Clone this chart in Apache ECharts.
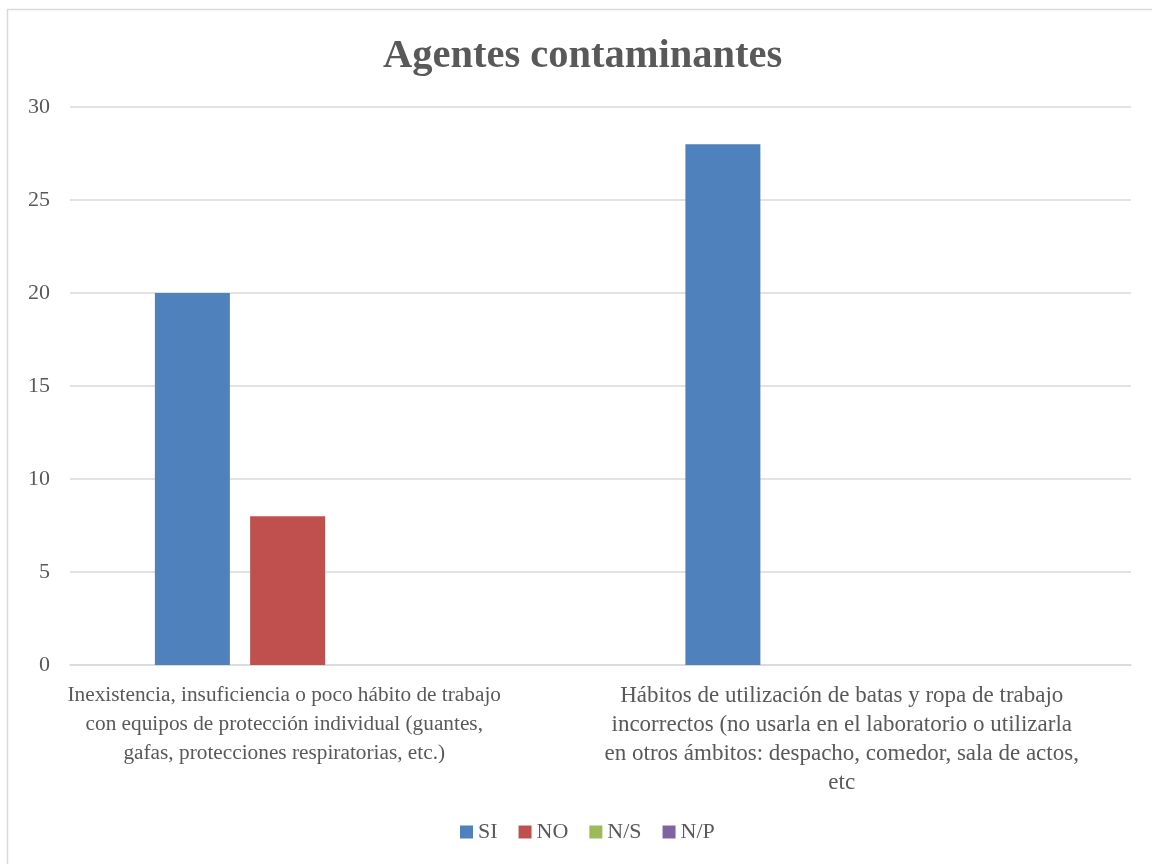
<!DOCTYPE html>
<html>
<head>
<meta charset="utf-8">
<style>
  html, body { margin: 0; padding: 0; background: #fff; }
  #chart { width: 1152px; height: 864px; }
</style>
<script src="https://cdn.jsdelivr.net/npm/echarts@6/dist/echarts.min.js"></script>
</head>
<body>
<div id="chart"></div>
<script>
// --- data ---
const categories = [
  'Inexistencia, insuficiencia o poco hábito de trabajo\ncon equipos de protección individual (guantes,\ngafas, protecciones respiratorias, etc.)',
  'Hábitos de utilización de batas y ropa de trabajo\nincorrectos (no usarla en el laboratorio o utilizarla\nen otros ámbitos: despacho, comedor, sala de actos,\netc'
];
const seriesNames = ['SI', 'NO', 'N/S', 'N/P'];
const siValues = [20, 28];
const noValues = [8, 0];
const nsValues = [0, 0];
const npValues = [0, 0];
const yTicks = [0, 5, 10, 15, 20, 25, 30];

const colors = ['#4f81bd', '#c0504d', '#9bbb59', '#8064a2'];
const FONT = '"Liberation Serif", "DejaVu Serif", serif';
const TEXT = '#595959';

// Excel no centra las etiquetas exactamente en la categoría: se desplazan a la izquierda
const labelPadRight = [102, 48];
const labelFontSize = [21.3, 23];

const chart = echarts.init(document.getElementById('chart'));

const allValues = [siValues, noValues, nsValues, npValues];
const series = seriesNames.map((name, i) => ({
  name: name,
  type: 'bar',
  data: allValues[i],
  barWidth: 75,
  barGap: '27%',
  itemStyle: { color: colors[i] }
}));

chart.setOption({
  backgroundColor: '#fff',
  animation: false,
  color: colors,
  title: {
    text: 'Agentes contaminantes',
    left: 378,
    top: 31,
    textStyle: { fontFamily: FONT, fontSize: 40.5, fontWeight: 'bold', color: TEXT }
  },
  graphic: [{
    type: 'rect',
    shape: { x: 7.5, y: 9.5, width: 1200, height: 900 },
    style: { fill: 'none', stroke: '#d9d9d9', lineWidth: 1.5 },
    silent: true
  }],
  legend: {
    data: seriesNames,
    bottom: 16,
    left: 455,
    icon: 'rect',
    itemWidth: 13,
    itemHeight: 13,
    itemGap: 21,
    textStyle: { fontFamily: FONT, fontSize: 22, color: TEXT }
  },
  grid: { left: 70, right: 21, top: 107, bottom: 199 },
  xAxis: {
    type: 'category',
    data: categories.map((c, i) => ({
      value: c,
      textStyle: { padding: [0, labelPadRight[i], 0, 0], fontSize: labelFontSize[i] }
    })),
    axisLine: { lineStyle: { color: '#d9d9d9', width: 1.5 } },
    axisTick: { show: false },
    axisLabel: {
      interval: 0,
      margin: 16,
      fontFamily: FONT,
      fontSize: 21.3,
      lineHeight: 29,
      color: TEXT,
      align: 'center'
    }
  },
  yAxis: {
    type: 'value',
    min: yTicks[0],
    max: yTicks[yTicks.length - 1],
    interval: 5,
    axisLine: { show: false },
    axisTick: { show: false },
    splitLine: { lineStyle: { color: '#d9d9d9', width: 1.5 } },
    axisLabel: { fontFamily: FONT, fontSize: 22, color: TEXT, margin: 20 }
  },
  series: series
});
</script>
</body>
</html>
